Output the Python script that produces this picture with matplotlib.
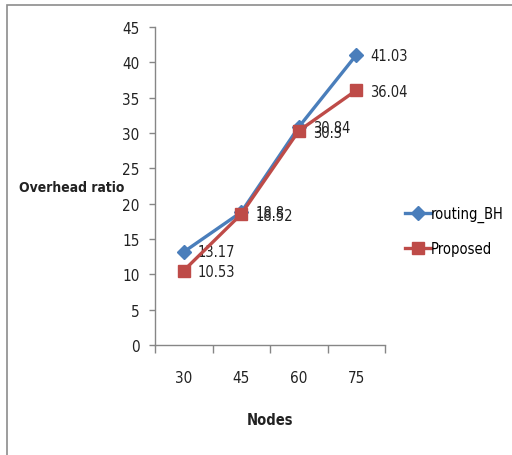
import matplotlib
matplotlib.use("Agg")
import matplotlib.pyplot as plt
from matplotlib.patches import Rectangle

plt.rcParams['font.family'] = ['DejaVu Sans']
plt.rcParams['font.stretch'] = 'condensed'

categories = ["30", "45", "60", "75"]
routing_bh = [13.17, 18.8, 30.84, 41.03]
proposed = [10.53, 18.52, 30.3, 36.04]
y_ticks = [0, 5, 10, 15, 20, 25, 30, 35, 40, 45]

fig = plt.figure(figsize=(5.12, 4.56), dpi=100)
fig.patch.set_facecolor("white")
fig.add_artist(Rectangle((7/512, -0.1), 1.2, 1 - 6/456 + 0.1, transform=fig.transFigure,
                         fill=False, edgecolor="#8c8c8c", linewidth=1.2))

ax = fig.add_axes([155/512, 1 - 346/456, 230/512, 318/456])
x = list(range(len(categories)))
blue = "#4a7ebb"
red = "#be4b48"
ax.plot(x, routing_bh, color=blue, lw=2.4, marker="D", ms=7, label="routing_BH", zorder=3)
ax.plot(x, proposed, color=red, lw=2.4, marker="s", ms=9, label="Proposed", zorder=4)

for xi, v in zip(x, routing_bh):
    ax.annotate(f"{v:g}", (xi, v), xytext=(10, 0), textcoords="offset points",
                va="center", ha="left", fontsize=10.5, color="#222222")
for xi, v in zip(x, proposed):
    ax.annotate(f"{v:g}", (xi, v), xytext=(10, -1), textcoords="offset points",
                va="center", ha="left", fontsize=10.5, color="#222222")

ax.set_xlim(-0.5, len(categories) - 0.5)
ax.set_ylim(0, 45)
ax.set_yticks(y_ticks)
ax.set_yticklabels([str(t) for t in y_ticks], fontsize=11, color="#222222")
ax.set_xticks(x)
ax.set_xticklabels(categories, fontsize=11, color="#222222")
ax.tick_params(axis="x", length=0, pad=18)
ax.set_xticks([i + 0.5 for i in range(-1, len(categories))], minor=True)
ax.tick_params(axis="x", which="minor", length=6, color="#868686", width=1)
ax.tick_params(axis="y", length=4, color="#868686", width=1, pad=7)
for s in ["top", "right"]:
    ax.spines[s].set_visible(False)
for s in ["left", "bottom"]:
    ax.spines[s].set_color("#868686")
    ax.spines[s].set_linewidth(1)

fig.text(72/512, 1 - 188/456, "Overhead ratio", ha="center", va="center",
         fontsize=10, fontweight="bold", color="#222222")
fig.text(270/512, 1 - 421/456, "Nodes", ha="center", va="center",
         fontsize=10.5, fontweight="bold", color="#222222")

leg = fig.legend(loc="center left", bbox_to_anchor=(405/512, 1 - 232/456), frameon=False,
                 fontsize=10.5, handlelength=1.8, handletextpad=0.0, labelspacing=1.3,
                 borderaxespad=0, borderpad=0)

fig.savefig("out.png", dpi=100, facecolor="white")
